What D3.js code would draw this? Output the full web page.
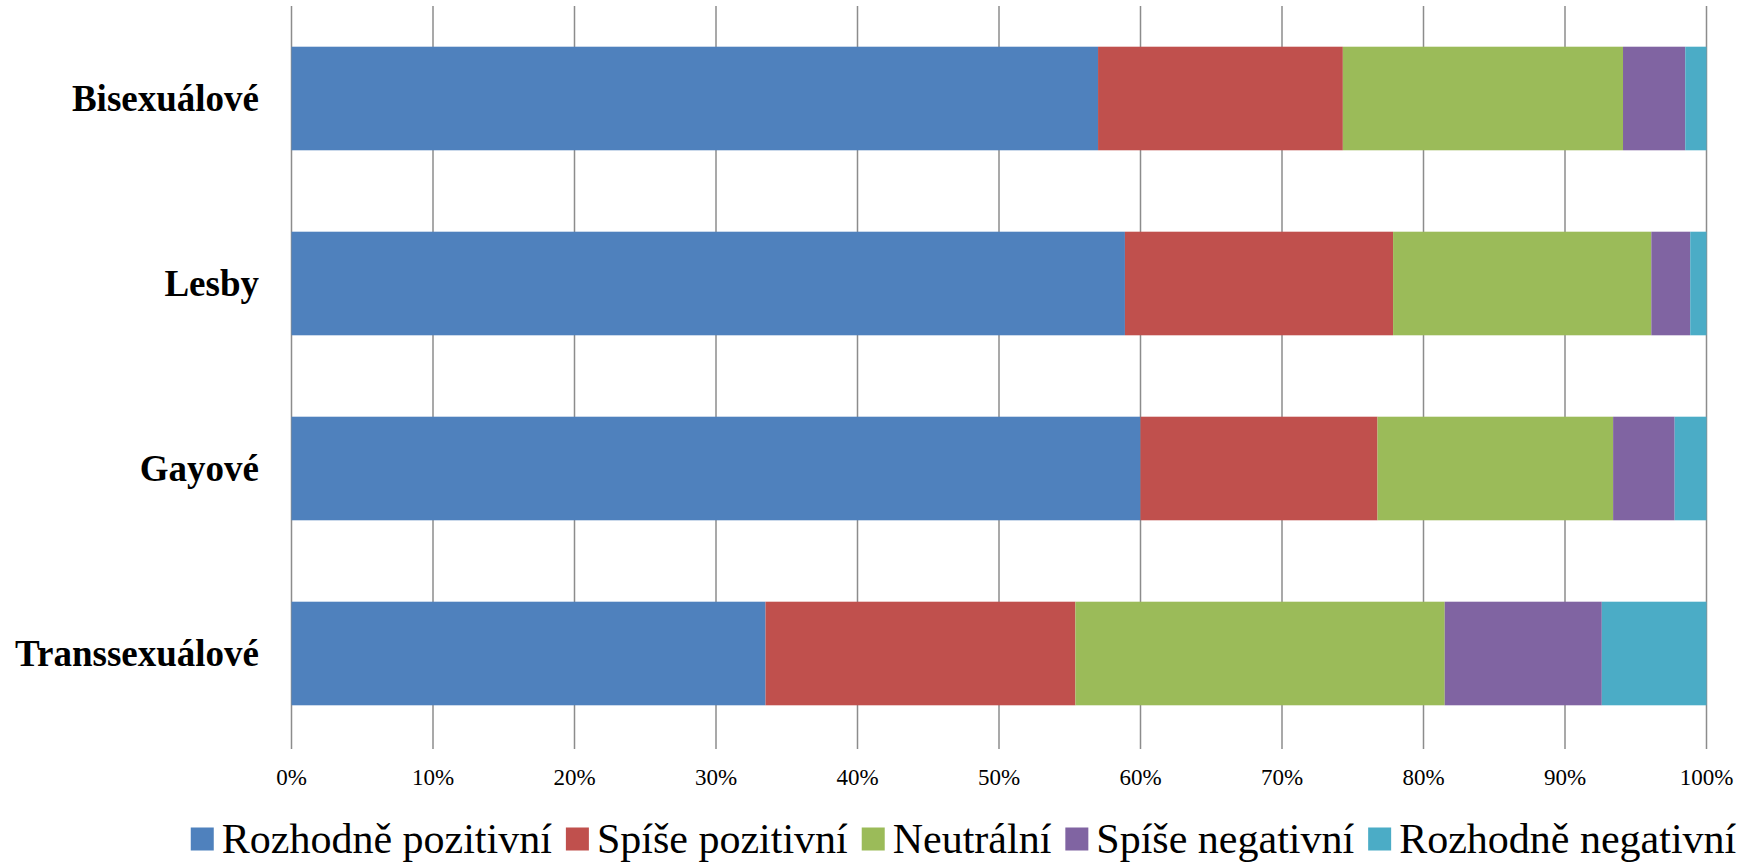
<!DOCTYPE html>
<html><head><meta charset="utf-8">
<script src="https://cdn.jsdelivr.net/npm/d3@7"></script>
<style>body{margin:0;background:#fff;}svg{display:block;}</style>
</head><body>
<svg id="chart" width="1758" height="862"></svg>
<script>
const categories = ["Bisexuálové", "Lesby", "Gayové", "Transsexuálové"];
const seriesNames = ["Rozhodně pozitivní", "Spíše pozitivní", "Neutrální", "Spíše negativní", "Rozhodně negativní"];
const rozhodnePozitivni = [57.0, 58.9, 60.0, 33.5];
const spisePozitivni = [17.3, 18.95, 16.75, 21.9];
const neutralni = [19.8, 18.25, 16.65, 26.1];
const spiseNegativni = [4.4, 2.75, 4.35, 11.1];
const rozhodneNegativni = [1.5, 1.15, 2.25, 7.4];
const tickValues = [0, 10, 20, 30, 40, 50, 60, 70, 80, 90, 100];
const colors = ["#4F81BD", "#C0504D", "#9BBB59", "#8064A2", "#4BACC6"];

(function () {
const FONT = "'Liberation Serif', Tinos, 'Times New Roman', serif";
const seriesValues = [rozhodnePozitivni, spisePozitivni, neutralni, spiseNegativni, rozhodneNegativni];
const rows = categories.map((c, i) => {
  const o = {cat: c};
  seriesNames.forEach((s, j) => o[s] = seriesValues[j][i]);
  return o;
});
const stacked = d3.stack().keys(seriesNames).offset(d3.stackOffsetExpand)(rows);

const svg = d3.select("#chart");
const pLeft = 291.5, pRight = 1706.5, pTop = 6, pBottom = 746;
const x = d3.scaleLinear().domain([0, 1]).range([pLeft, pRight]);
const y = d3.scaleBand().domain(categories).range([pTop, pBottom]).paddingInner(0.44).paddingOuter(0.22);
const color = d3.scaleOrdinal().domain(seriesNames).range(colors);

// gridlines
svg.append("g").selectAll("line").data(tickValues).join("line")
  .attr("x1", d => x(d / 100)).attr("x2", d => x(d / 100))
  .attr("y1", pTop).attr("y2", 749)
  .attr("stroke", "#8c8c8c").attr("stroke-width", 1.5);

// bars
svg.append("g").selectAll("g").data(stacked).join("g")
  .attr("fill", d => color(d.key))
  .selectAll("rect").data(d => d).join("rect")
  .attr("x", d => x(d[0])).attr("width", d => x(d[1]) - x(d[0]))
  .attr("y", d => y(d.data.cat)).attr("height", y.bandwidth());

// category labels
svg.append("g").selectAll("text").data(categories).join("text")
  .attr("x", 259).attr("y", d => y(d) + y.bandwidth() / 2).attr("dy", "0.33em")
  .attr("text-anchor", "end")
  .style("font-family", FONT).style("font-weight", "bold")
  .style("font-size", "37px").attr("fill", "#000").text(d => d);

// tick labels
svg.append("g").selectAll("text").data(tickValues).join("text")
  .attr("x", d => x(d / 100)).attr("y", 777).attr("dy", "0.33em")
  .attr("text-anchor", "middle")
  .style("font-family", FONT).style("font-size", "23px")
  .attr("fill", "#000").text(d => d + "%");

// legend
const lg = svg.append("g");
const items = lg.selectAll("g").data(seriesNames).join("g");
items.append("rect").attr("width", 23).attr("height", 23).attr("y", -11.5).attr("fill", d => color(d));
const texts = items.append("text").attr("x", 31).attr("y", 0).attr("dy", "0.33em")
  .style("font-family", FONT).style("font-size", "32px").attr("fill", "#000").text(d => d);
// fit legend width to the reference span
const targetW = 1555, gapItem = 14, swW = 31;
let sumText = 0;
texts.each(function() { sumText += this.getComputedTextLength(); });
const fixed = seriesNames.length * swW + (seriesNames.length - 1) * gapItem;
const fs = Math.min(42, 32 * (targetW - fixed) / sumText);
texts.style("font-size", fs + "px");
let cx = 0;
items.each(function() {
  const w = d3.select(this).select("text").node().getComputedTextLength();
  d3.select(this).attr("transform", `translate(${cx},0)`);
  cx += swW + w + gapItem;
});
const total = cx - gapItem;
lg.attr("transform", `translate(${963.5 - total / 2},839)`);
})();
</script>
</body></html>
